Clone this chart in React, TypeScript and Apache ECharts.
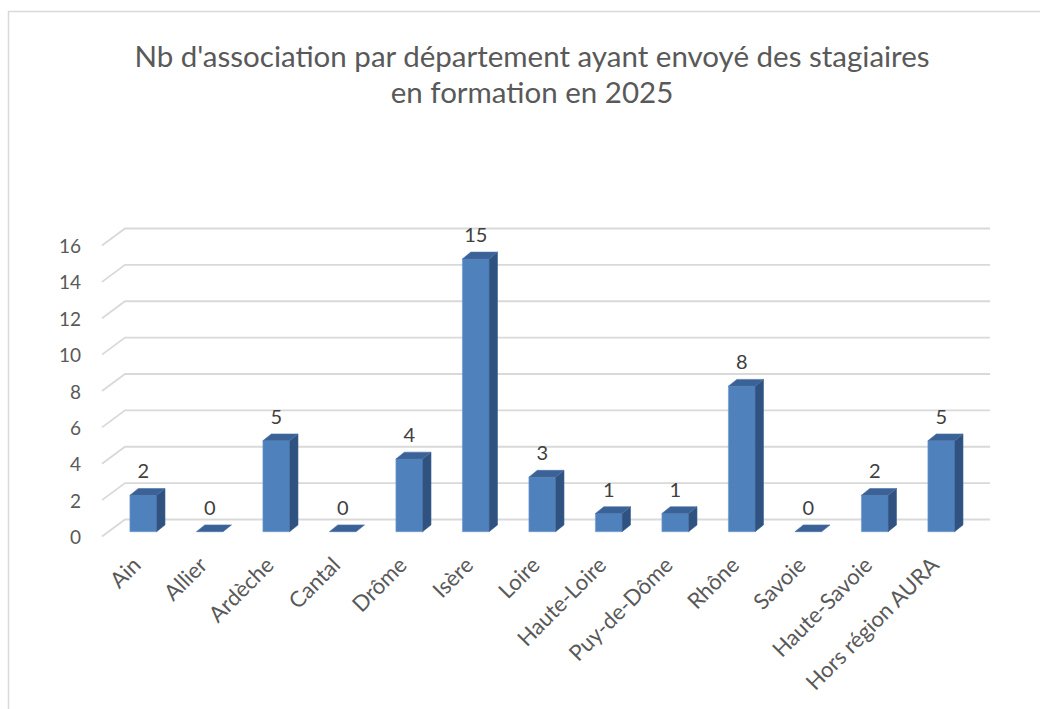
import React, { useEffect, useRef } from "react";
import * as echarts from "echarts";

const categories = [
  "Ain", "Allier", "Ardèche", "Cantal", "Drôme", "Isère", "Loire",
  "Haute-Loire", "Puy-de-Dôme", "Rhône", "Savoie", "Haute-Savoie", "Hors région AURA",
];
const values = [2, 0, 5, 0, 4, 15, 3, 1, 1, 8, 0, 2, 5];
const yTicks = [0, 2, 4, 6, 8, 10, 12, 14, 16];
const titleLines = [
  "Nb d'association par département ayant envoyé des stagiaires",
  "en formation en 2025",
];

const FONT = "Lato, 'Open Sans', sans-serif";

export default function App() {
  const ref = useRef<HTMLDivElement>(null);
  useEffect(() => {
    if (!ref.current) return;
    const chart = echarts.init(ref.current, undefined, { renderer: "svg" });
    const barW = 26.7;
    const depthX = 8.4;
    const depthY = 6.8;
    const barOff = -4.8;
    chart.setOption({
      animation: false,
      backgroundColor: "#ffffff",
      graphic: [
        {
          type: "rect",
          shape: { x: 8.5, y: 11.5, width: 1100, height: 800 },
          style: { fill: "none", stroke: "#d9d9d9", lineWidth: 1.5 },
          silent: true,
        },
        {
          type: "text",
          x: 532,
          y: 55,
          style: {
            text: titleLines[0],
            fontFamily: FONT,
            fontSize: 29.5,
            fill: "#595959",
            align: "center",
            verticalAlign: "middle",
          },
        },
        {
          type: "text",
          x: 532,
          y: 91,
          style: {
            text: titleLines[1],
            fontFamily: FONT,
            fontSize: 29.5,
            fill: "#595959",
            align: "center",
            verticalAlign: "middle",
          },
        },
      ],
      grid: { left: 110, right: 65.5, top: 245.5, bottom: 172.5, containLabel: false },
      xAxis: {
        type: "category",
        data: categories,
        axisLine: { show: false },
        axisTick: { show: false },
        axisLabel: {
          interval: 0,
          rotate: 45,
          margin: 17,
          padding: [0, 10, 0, 0],
          fontSize: 22,
          fontFamily: FONT,
          color: "#595959",
        },
      },
      yAxis: {
        type: "value",
        min: 0,
        max: 16,
        interval: 2,
        axisLine: { show: false },
        axisTick: { show: false },
        splitLine: { show: false },
        axisLabel: {
          margin: 29,
          fontSize: 19,
          fontFamily: FONT,
          color: "#595959",
        },
      },
      series: [
        {
          type: "custom",
          z: 1,
          silent: true,
          data: yTicks.map((t) => [0, t]),
          renderItem: (params: any, api: any) => {
            const cs = params.coordSys;
            const y = api.coord([0, api.value(1)])[1];
            return {
              type: "polyline",
              shape: {
                points: [
                  [cs.x - 8, y],
                  [cs.x + 15, y - 17],
                  [cs.x + cs.width + 15.5, y - 17],
                ],
              },
              style: { stroke: "#d9d9d9", lineWidth: 1.8, fill: "none" },
            };
          },
        },
        {
          type: "custom",
          z: 2,
          data: values.map((v, i) => [i, v]),
          renderItem: (params: any, api: any) => {
            const i = api.value(0);
            const v = api.value(1);
            const top = api.coord([i, v]);
            const base = api.coord([i, 0]);
            const x0 = top[0] - barW / 2;
            const x1 = x0 + barW;
            const yT = top[1] + barOff;
            const yB = base[1] + barOff;
            const children: any[] = [];
            if (v > 0) {
              children.push({
                type: "rect",
                shape: { x: x0, y: yT, width: barW, height: yB - yT },
                style: { fill: "#4f81bd", stroke: "#6f9bd1", lineWidth: 0.6 },
              });
              children.push({
                type: "polygon",
                shape: {
                  points: [
                    [x1, yT],
                    [x1 + depthX, yT - depthY],
                    [x1 + depthX, yB - depthY],
                    [x1, yB],
                  ],
                },
                style: { fill: "#2f5280", stroke: "#3d6394", lineWidth: 0.6 },
              });
            }
            children.push({
              type: "polygon",
              shape: {
                points: [
                  [x0, yT],
                  [x1, yT],
                  [x1 + depthX, yT - depthY],
                  [x0 + depthX, yT - depthY],
                ],
              },
              style: { fill: "#3b6296", stroke: "#4a72a8", lineWidth: 0.6 },
            });
            children.push({
              type: "text",
              x: top[0],
              y: yT - 25,
              style: {
                text: String(v),
                fontFamily: FONT,
                fontSize: 20,
                fill: "#404040",
                align: "center",
                verticalAlign: "middle",
              },
            });
            return { type: "group", children };
          },
        },
      ],
    });
    return () => chart.dispose();
  }, []);
  return (
    <div
      ref={ref}
      style={{ position: "fixed", left: 0, top: 0, width: 1040, height: 709, background: "#fff" }}
    />
  );
}
